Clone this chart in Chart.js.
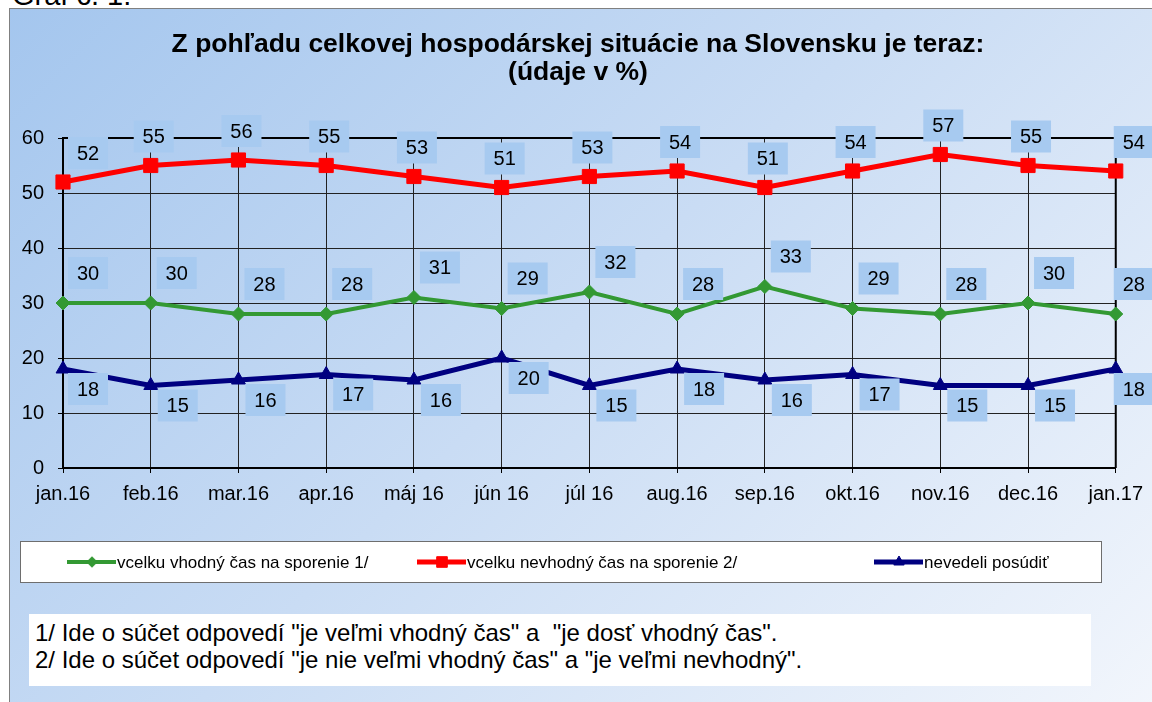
<!DOCTYPE html>
<html>
<head>
<meta charset="utf-8">
<script src="https://cdn.jsdelivr.net/npm/chart.js@4.4.0/dist/chart.umd.min.js"></script>
<style>
  html, body { margin: 0; padding: 0; width: 1152px; height: 702px; overflow: hidden; background: #fff;
    font-family: "Liberation Sans", Arial, sans-serif; }
  #cap { position: absolute; left: 12px; top: -19px; font-size: 29px; line-height: 29px; color: #000; }
  #frame { position: absolute; left: 9px; top: 8px; width: 1200px; height: 760px; border: 1px solid #808080;
    background: linear-gradient(135deg, #a4c6ee 0%, #c9dcf4 45%, #f7f9fd 100%); }
  #note { position: absolute; left: 29px; top: 614px; width: 1062px; height: 72px; background: #fff;
    box-sizing: border-box; padding: 5px 0 0 6px; font-size: 24px; line-height: 27px; color: #000; white-space: pre; }
  #wrap { position: absolute; left: 0; top: 0; }
</style>
</head>
<body>
<div id="cap">Graf č. 1:</div>
<div id="frame"></div>
<div id="note">1/ Ide o súčet odpovedí "je veľmi vhodný čas" a  "je dosť vhodný čas".
2/ Ide o súčet odpovedí "je nie veľmi vhodný čas" a "je veľmi nevhodný".</div>
<div id="wrap"><canvas id="chart" width="1152" height="702"></canvas></div>

<script>
// údaje z grafu
const months = ['jan.16', 'feb.16', 'mar.16', 'apr.16', 'máj 16', 'jún 16', 'júl 16',
  'aug.16', 'sep.16', 'okt.16', 'nov.16', 'dec.16', 'jan.17'];
const vhodny = [30, 30, 28, 28, 31, 29, 32, 28, 33, 29, 28, 30, 28];
const nevhodny = [52, 55, 56, 55, 53, 51, 53, 54, 51, 54, 57, 55, 54];
const nevedeli = [18, 15, 16, 17, 16, 20, 15, 18, 16, 17, 15, 15, 18];
const seriesNames = ['vcelku vhodný čas na sporenie 1/', 'vcelku nevhodný čas na sporenie 2/', 'nevedeli posúdiť'];
const titleLines = ['Z pohľadu celkovej hospodárskej situácie na Slovensku je teraz:', '(údaje v %)'];
const yTicks = [0, 10, 20, 30, 40, 50, 60];

const FONT = '"Liberation Sans", Arial, sans-serif';

// posun popiskov voči bodu (zelená, červená, modrá)
const labelShift = [
  { dx: 26, dy: -30 },
  { dx: 3, dy: -29 },
  { dx: 27, dy: 20 }
];

// nadpis nad grafom
const titleText = {
  id: 'titleText',
  afterDraw(chart) {
    const ctx = chart.ctx;
    ctx.save();
    ctx.fillStyle = '#000';
    ctx.font = 'bold 26.5px ' + FONT;
    ctx.textAlign = 'center';
    ctx.textBaseline = 'middle';
    ctx.fillText(titleLines[0], 578, 45);
    ctx.fillText(titleLines[1], 578, 73);
    ctx.restore();
  }
};

// horný a pravý okraj plochy grafu
const frameLines = {
  id: 'frameLines',
  beforeDatasetsDraw(chart) {
    const { ctx, chartArea: a } = chart;
    ctx.save();
    ctx.strokeStyle = '#000';
    ctx.lineWidth = 2;
    ctx.beginPath();
    ctx.moveTo(a.left, a.top);
    ctx.lineTo(a.right, a.top);
    ctx.lineTo(a.right, a.bottom);
    ctx.stroke();
    ctx.restore();
  }
};

// hodnoty v modrých rámčekoch
const valueBoxes = {
  id: 'valueBoxes',
  afterDatasetsDraw(chart) {
    const ctx = chart.ctx;
    ctx.save();
    ctx.font = '20px ' + FONT;
    ctx.textAlign = 'center';
    ctx.textBaseline = 'middle';
    chart.data.datasets.forEach((ds, di) => {
      const meta = chart.getDatasetMeta(di);
      const last = meta.data.length - 1;
      meta.data.forEach((pt, i) => {
        let x = pt.x + labelShift[di].dx;
        if (i === 0) x = pt.x + 25;
        if (i === last) x = pt.x + 18;
        const y = pt.y + labelShift[di].dy;
        ctx.fillStyle = '#a7caf0';
        ctx.fillRect(x - 20, y - 16, 40, 32);
        ctx.fillStyle = '#000';
        ctx.fillText(String(ds.data[i]), x, y + 1);
      });
    });
    ctx.restore();
  }
};

// legenda v bielom rámčeku
const boxLegend = {
  id: 'boxLegend',
  afterDraw(chart) {
    const ctx = chart.ctx;
    const box = { x: 20.5, y: 541.5, w: 1081, h: 41 };
    const lineStarts = [67, 417, 874];
    ctx.save();
    ctx.fillStyle = '#fff';
    ctx.fillRect(box.x, box.y, box.w, box.h);
    ctx.strokeStyle = '#6e6e6e';
    ctx.lineWidth = 1;
    ctx.strokeRect(box.x, box.y, box.w, box.h);
    const cy = box.y + box.h / 2;
    chart.data.datasets.forEach((ds, di) => {
      const x0 = lineStarts[di];
      ctx.strokeStyle = ds.borderColor;
      ctx.lineWidth = ds.borderWidth;
      ctx.beginPath();
      ctx.moveTo(x0, cy);
      ctx.lineTo(x0 + 49, cy);
      ctx.stroke();
      ctx.fillStyle = ds.borderColor;
      ctx.lineWidth = 1;
      Chart.helpers.drawPoint(ctx, {
        pointStyle: ds.pointStyle, radius: ds.pointRadius * 0.75, rotation: 0, borderWidth: 1
      }, x0 + 25, cy);
      ctx.fillStyle = '#000';
      ctx.font = '17px ' + FONT;
      ctx.textAlign = 'left';
      ctx.textBaseline = 'middle';
      ctx.fillText(ds.label, x0 + 50, cy + 1);
    });
    ctx.restore();
  }
};

const gridStyle = {
  color: '#222',
  lineWidth: 1,
  borderDash: [2, 2],
  tickLength: 5,
  tickColor: '#000',
  tickBorderDash: [],
  tickWidth: 1
};

new Chart(document.getElementById('chart'), {
  type: 'line',
  data: {
    labels: months,
    datasets: [
      {
        label: seriesNames[0],
        data: vhodny,
        borderColor: '#339933',
        backgroundColor: '#339933',
        borderWidth: 4,
        pointStyle: 'rectRot',
        pointRadius: 7,
        pointBorderWidth: 1
      },
      {
        label: seriesNames[1],
        data: nevhodny,
        borderColor: '#ff0000',
        backgroundColor: '#ff0000',
        borderWidth: 5,
        pointStyle: 'rect',
        pointRadius: 10,
        pointBorderWidth: 1
      },
      {
        label: seriesNames[2],
        data: nevedeli,
        borderColor: '#000080',
        backgroundColor: '#000080',
        borderWidth: 5,
        pointStyle: 'triangle',
        pointRadius: 8,
        pointBorderWidth: 1
      }
    ]
  },
  options: {
    responsive: false,
    animation: false,
    devicePixelRatio: 1,
    layout: { padding: { left: 10, right: 34, top: 138, bottom: 192 } },
    elements: { line: { tension: 0 } },
    plugins: {
      legend: { display: false },
      tooltip: { enabled: false },
      title: { display: false }
    },
    scales: {
      x: {
        afterFit(scale) { scale.height = 42; },
        grid: gridStyle,
        border: { display: true, color: '#000', width: 2 },
        ticks: { color: '#000', padding: 9, maxRotation: 0, font: { family: FONT, size: 20 } }
      },
      y: {
        min: yTicks[0],
        max: yTicks[yTicks.length - 1],
        afterFit(scale) { scale.width = 53; },
        afterBuildTicks(scale) { scale.ticks = yTicks.map(v => ({ value: v })); },
        grid: gridStyle,
        border: { display: true, color: '#000', width: 2 },
        ticks: { color: '#000', padding: 14, font: { family: FONT, size: 20 } }
      }
    }
  },
  plugins: [frameLines, valueBoxes, boxLegend, titleText]
});
</script>
</body>
</html>
